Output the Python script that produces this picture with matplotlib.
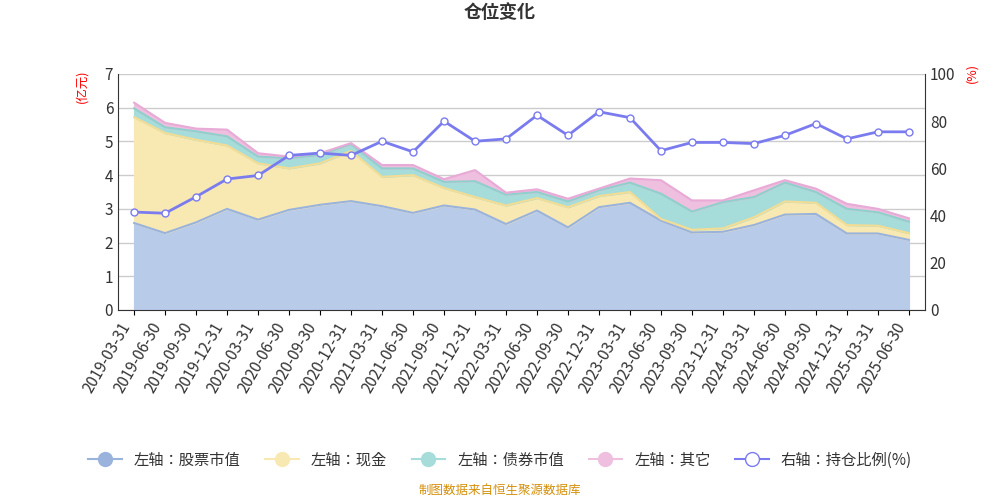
import numpy as np
import matplotlib
matplotlib.use("Agg")
import matplotlib.pyplot as plt
from matplotlib import font_manager
from matplotlib.lines import Line2D

names = {f.name for f in font_manager.fontManager.ttflist}
cjk = [n for n in ["Noto Sans CJK SC", "Noto Sans CJK JP", "Noto Sans CJK TC", "Noto Sans CJK KR",
                   "Noto Sans SC", "WenQuanYi Zen Hei", "Droid Sans Fallback"] if n in names]
cjk += sorted(n for n in names if "CJK" in n or "Hei" in n)
plt.rcParams["font.family"] = "sans-serif"
plt.rcParams["font.sans-serif"] = cjk + ["DejaVu Sans"]

dates = ["2019-03-31", "2019-06-30", "2019-09-30", "2019-12-31", "2020-03-31", "2020-06-30",
         "2020-09-30", "2020-12-31", "2021-03-31", "2021-06-30", "2021-09-30", "2021-12-31",
         "2022-03-31", "2022-06-30", "2022-09-30", "2022-12-31", "2023-03-31", "2023-06-30",
         "2023-09-30", "2023-12-31", "2024-03-31", "2024-06-30", "2024-09-30", "2024-12-31",
         "2025-03-31", "2025-06-30"]
stock = [2.58, 2.28, 2.6, 3.0, 2.68, 2.97, 3.12, 3.23, 3.08, 2.88, 3.1, 2.98, 2.55, 2.95, 2.45,
         3.05, 3.18, 2.65, 2.3, 2.32, 2.52, 2.83, 2.85, 2.27, 2.27, 2.08]
cash_top = [5.72, 5.25, 5.05, 4.88, 4.35, 4.2, 4.35, 4.72, 3.95, 4.0, 3.62, 3.35, 3.1, 3.32, 3.05,
            3.38, 3.5, 2.7, 2.38, 2.42, 2.75, 3.22, 3.18, 2.52, 2.5, 2.28]
bond_top = [5.98, 5.42, 5.3, 5.15, 4.55, 4.5, 4.6, 4.92, 4.2, 4.2, 3.8, 3.82, 3.42, 3.5, 3.22,
            3.55, 3.78, 3.45, 2.92, 3.2, 3.35, 3.78, 3.5, 3.0, 2.9, 2.62]
other_top = [6.15, 5.55, 5.38, 5.35, 4.65, 4.55, 4.65, 4.95, 4.3, 4.3, 3.88, 4.15, 3.48, 3.58, 3.3,
             3.6, 3.9, 3.85, 3.25, 3.25, 3.55, 3.85, 3.6, 3.15, 3.0, 2.72]
ratio = [41.5, 41, 48, 55.5, 57, 65.5, 66.5, 65.5, 71.5, 67, 80, 71.5, 72.5, 82.5, 74, 84, 81.5,
         67.5, 71, 71, 70.5, 74, 79, 72.5, 75.5, 75.5]

x = np.arange(len(dates))
fig = plt.figure(figsize=(10, 5), dpi=100)
ax = fig.add_axes([0.118, 0.38, 0.807, 0.472])
ax.fill_between(x, 0, stock, color="#b8cbe9", zorder=2)
ax.plot(x, stock, color="#9ab3dd", lw=1.5, zorder=3)
ax.fill_between(x, stock, cash_top, color="#f8e9b2", zorder=2)
ax.plot(x, cash_top, color="#f3dc94", lw=1.5, zorder=3)
ax.fill_between(x, cash_top, bond_top, color="#a6dcd9", zorder=2)
ax.plot(x, bond_top, color="#8fd0cc", lw=1.5, zorder=3)
ax.fill_between(x, bond_top, other_top, color="#efbfdf", zorder=2)
ax.plot(x, other_top, color="#e8aad6", lw=1.5, zorder=3)
ax.set_xlim(-0.52, 25.52)
ax.set_ylim(0, 7)
ax.set_yticks(range(8))
ax.grid(axis="y", color="#cccccc", lw=1, zorder=0)
ax.set_xticks(x)
ax.set_xticklabels(dates, rotation=60, ha="right", fontsize=11, color="#333333")
ax.tick_params(axis="y", labelsize=11, colors="#333333", length=0)
for s in ["top", "right"]:
    ax.spines[s].set_visible(False)
ax.spines["left"].set_color("#333333")
ax.spines["bottom"].set_color("#333333")

ax2 = ax.twinx()
ax2.plot(x, ratio, color="#7b7bf0", lw=2, marker="o", markersize=5,
         markerfacecolor="white", markeredgecolor="#7b7bf0", zorder=5)
ax2.set_ylim(0, 100)
ax2.set_yticks(range(0, 101, 20))
ax2.tick_params(axis="y", labelsize=11, colors="#333333", length=0)
for s in ["top", "left", "bottom"]:
    ax2.spines[s].set_visible(False)
ax2.spines["right"].set_color("#333333")

fig.text(0.5, 0.965, "仓位变化", ha="center", fontsize=13, fontweight="bold", color="#333333")
fig.text(0.082, 0.80, "(亿元)", rotation=90, color="red", fontsize=9, ha="center")
fig.text(0.972, 0.84, "(%)", rotation=90, color="red", fontsize=9, ha="center")

handles = [
    Line2D([], [], color="#9ab3dd", marker="o", markersize=10, markerfacecolor="#9ab3dd", lw=1.5),
    Line2D([], [], color="#f8e9b2", marker="o", markersize=10, markerfacecolor="#f8e9b2", lw=1.5),
    Line2D([], [], color="#a6dcd9", marker="o", markersize=10, markerfacecolor="#a6dcd9", lw=1.5),
    Line2D([], [], color="#efbfdf", marker="o", markersize=10, markerfacecolor="#efbfdf", lw=1.5),
    Line2D([], [], color="#7b7bf0", marker="o", markersize=10, markerfacecolor="white", lw=1.5),
]
labels = ["左轴：股票市值", "左轴：现金", "左轴：债券市值", "左轴：其它", "右轴：持仓比例(%)"]
fig.legend(handles, labels, loc="center", bbox_to_anchor=(0.5, 0.08), ncol=5, frameon=False,
           fontsize=11, handlelength=2.2, columnspacing=1.6, labelcolor="#333333")
fig.text(0.5, 0.012, "制图数据来自恒生聚源数据库", ha="center", fontsize=9, color="#d4900a")

fig.savefig("out.png", dpi=100)
